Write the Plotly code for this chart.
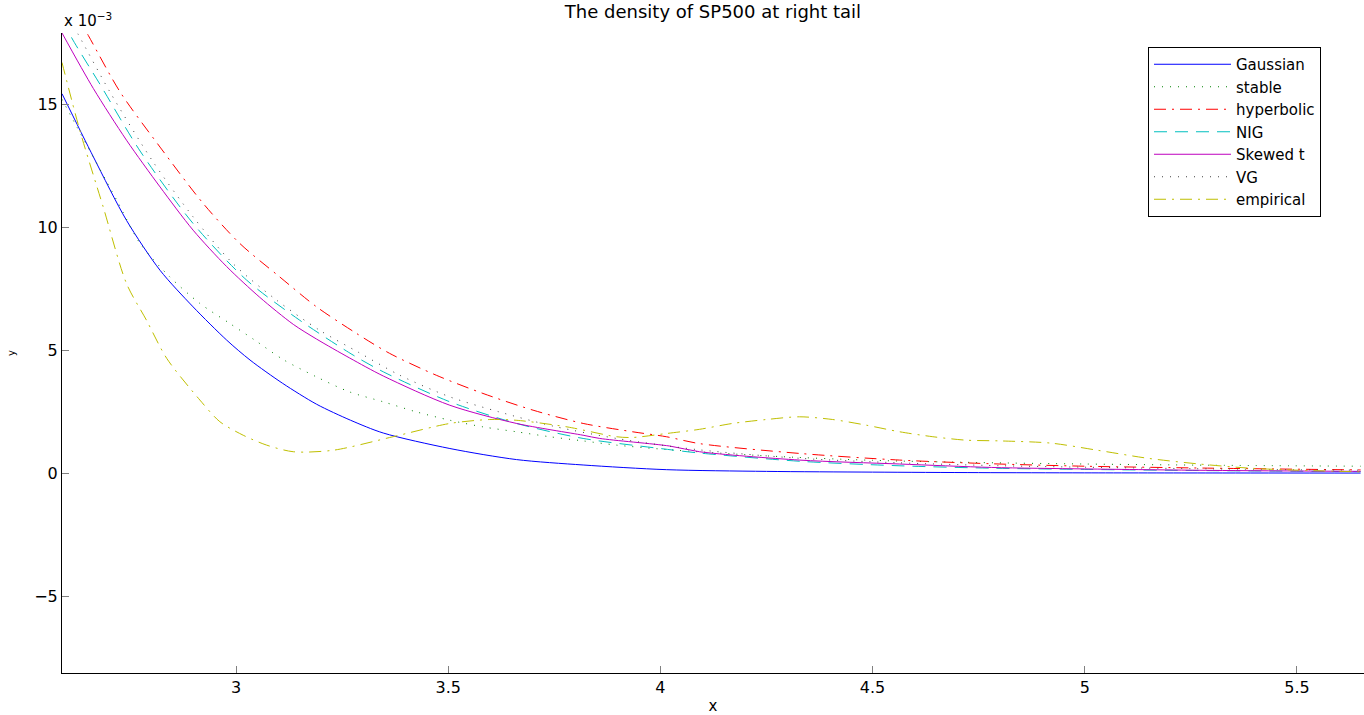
import plotly.graph_objects as go

# values in units of 1e-3
gauss_x = [2.59, 2.664, 2.742, 2.821, 2.899, 2.978, 3.033, 3.11, 3.19, 3.27, 3.347, 3.504, 3.661, 3.818, 4.014, 4.25, 4.5, 4.75, 5.0, 5.3, 5.65]
gauss_y = [15.43, 12.86, 10.28, 8.25, 6.76, 5.41, 4.6, 3.65, 2.80, 2.15, 1.63, 1.00, 0.55, 0.33, 0.14, 0.07, 0.04, 0.02, 0.01, 0.005, 0.002]

stable_x = [2.59, 2.625, 2.719, 2.774, 2.844, 2.915, 2.986, 3.045, 3.111, 3.19, 3.268, 3.347, 3.425, 3.504, 3.582, 3.661, 3.739, 3.818, 3.896, 4.014, 4.25, 4.5, 4.75, 5.0, 5.3, 5.65]
stable_y = [15.2, 14.08, 11.1, 9.34, 7.98, 6.9, 6.08, 5.4, 4.62, 3.91, 3.3, 2.9, 2.49, 2.15, 1.88, 1.68, 1.48, 1.31, 1.14, 0.96, 0.7, 0.52, 0.43, 0.37, 0.32, 0.28]

hyper_x = [2.59, 2.652, 2.727, 2.821, 2.923, 3.009, 3.103, 3.19, 3.284, 3.362, 3.472, 3.582, 3.70, 3.818, 3.935, 4.014, 4.092, 4.328, 4.564, 4.78, 5.0, 5.3, 5.65]
hyper_y = [19.7, 17.8, 15.5, 13.26, 10.96, 9.34, 7.98, 6.76, 5.68, 4.87, 3.98, 3.24, 2.56, 2.02, 1.68, 1.48, 1.2, 0.8, 0.53, 0.38, 0.28, 0.2, 0.13]

nig_x = [2.59, 2.613, 2.68, 2.774, 2.899, 3.025, 3.15, 3.276, 3.347, 3.504, 3.661, 3.818, 4.0, 4.09, 4.33, 4.56, 4.78, 5.0, 5.3, 5.65]
nig_y = [18.5, 17.7, 15.8, 13.1, 10.15, 7.85, 6.22, 4.8, 4.12, 2.9, 2.02, 1.41, 1.0, 0.82, 0.48, 0.3, 0.2, 0.15, 0.1, 0.06]

skt_x = [2.59, 2.664, 2.742, 2.821, 2.899, 2.978, 3.056, 3.135, 3.19, 3.268, 3.347, 3.504, 3.661, 3.818, 3.857, 4.022, 4.092, 4.328, 4.564, 4.78, 5.0, 5.3, 5.65]
skt_y = [17.9, 15.64, 13.54, 11.64, 9.88, 8.4, 7.15, 6.05, 5.45, 4.68, 3.95, 2.76, 2.02, 1.54, 1.41, 1.1, 0.87, 0.53, 0.37, 0.23, 0.17, 0.11, 0.07]

vg_x = [2.59, 2.628, 2.703, 2.805, 2.899, 2.993, 3.096, 3.197, 3.29, 3.386, 3.504, 3.62, 3.75, 3.9, 4.09, 4.33, 4.56, 4.8, 5.0, 5.3, 5.65]
vg_y = [19.0, 17.85, 15.5, 12.65, 10.42, 8.52, 7.03, 5.81, 4.9, 3.98, 3.1, 2.49, 1.9, 1.4, 0.95, 0.6, 0.42, 0.3, 0.24, 0.17, 0.12]

emp_x = [2.59, 2.632, 2.687, 2.742, 2.789, 2.837, 2.915, 2.962, 3.017, 3.072, 3.135, 3.229, 3.37, 3.504, 3.598, 3.66, 3.78, 3.896, 3.935, 4.014, 4.092, 4.17, 4.25, 4.328, 4.406, 4.485, 4.564, 4.642, 4.72, 4.8, 4.92, 5.03, 5.15, 5.27, 5.39, 5.5, 5.65]
emp_y = [16.7, 13.94, 10.83, 7.71, 6.22, 4.66, 2.97, 2.09, 1.54, 1.14, 0.87, 0.93, 1.48, 2.02, 2.18, 2.15, 1.88, 1.48, 1.45, 1.61, 1.78, 2.02, 2.18, 2.29, 2.18, 1.95, 1.68, 1.48, 1.34, 1.31, 1.22, 0.93, 0.6, 0.37, 0.2, 0.12, 0.05]

x_ticks = [3, 3.5, 4, 4.5, 5, 5.5]
x_ticklabels = ["3", "3.5", "4", "4.5", "5", "5.5"]
y_ticks = [-5, 0, 5, 10, 15]
y_ticklabels = ["\u22125", "0", "5", "10", "15"]

series = [
    ("Gaussian", gauss_x, gauss_y, "#0000FF", "solid"),
    ("stable", stable_x, stable_y, "#008000", "1px,7px"),
    ("hyperbolic", hyper_x, hyper_y, "#FF0000", "12px,6px,2px,6px"),
    ("NIG", nig_x, nig_y, "#00BFBF", "13px,8px"),
    ("Skewed t", skt_x, skt_y, "#BF00BF", "solid"),
    ("VG", vg_x, vg_y, "#404040", "1px,7px"),
    ("empirical", emp_x, emp_y, "#BFBF00", "12px,6px,2px,6px"),
]

fig = go.Figure()
for name, xs, ys, col, dash in series:
    fig.add_trace(go.Scatter(x=xs, y=ys, name=name, mode="lines",
                             line=dict(color=col, width=1, dash=dash, shape="spline", smoothing=0.8)))

FONT = "DejaVu Sans, Arial, sans-serif"
fig.update_layout(
    width=1364, height=715,
    margin=dict(l=62, r=0, t=33, b=42),
    plot_bgcolor="white", paper_bgcolor="white",
    font=dict(family=FONT, size=15, color="black"),
    title=dict(text="The density of SP500 at right tail", x=713/1364, xanchor="center",
               y=1 - 12/715, yanchor="middle", yref="container", font=dict(size=18)),
    xaxis=dict(range=[2.59, 5.658], tickvals=x_ticks, ticktext=x_ticklabels,
               showgrid=False, zeroline=False, showline=True, linecolor="black", linewidth=1,
               ticks="inside", ticklen=7, tickcolor="#808080", tickfont=dict(size=16),
               title=dict(text="x", font=dict(size=15), standoff=5)),
    yaxis=dict(range=[-8.13, 17.9], tickvals=y_ticks, ticktext=y_ticklabels,
               showgrid=False, zeroline=False, showline=True, linecolor="black", linewidth=1,
               ticks="inside", ticklen=7, tickcolor="#808080", tickfont=dict(size=16),
               title=dict(text="y", font=dict(size=10), standoff=16)),
    legend=dict(x=(1148 - 62) / 1302, y=1 - 14 / 640, xanchor="left", yanchor="top",
                bordercolor="black", borderwidth=1, bgcolor="white",
                font=dict(size=15), itemwidth=77, tracegroupgap=0),
    showlegend=True,
)
fig.add_annotation(text="x 10<sup>\u22123</sup>", xref="paper", yref="paper",
                   x=0, y=1, xanchor="left", yanchor="bottom", showarrow=False,
                   font=dict(size=15), yshift=1)

fig.write_html("out.html")
